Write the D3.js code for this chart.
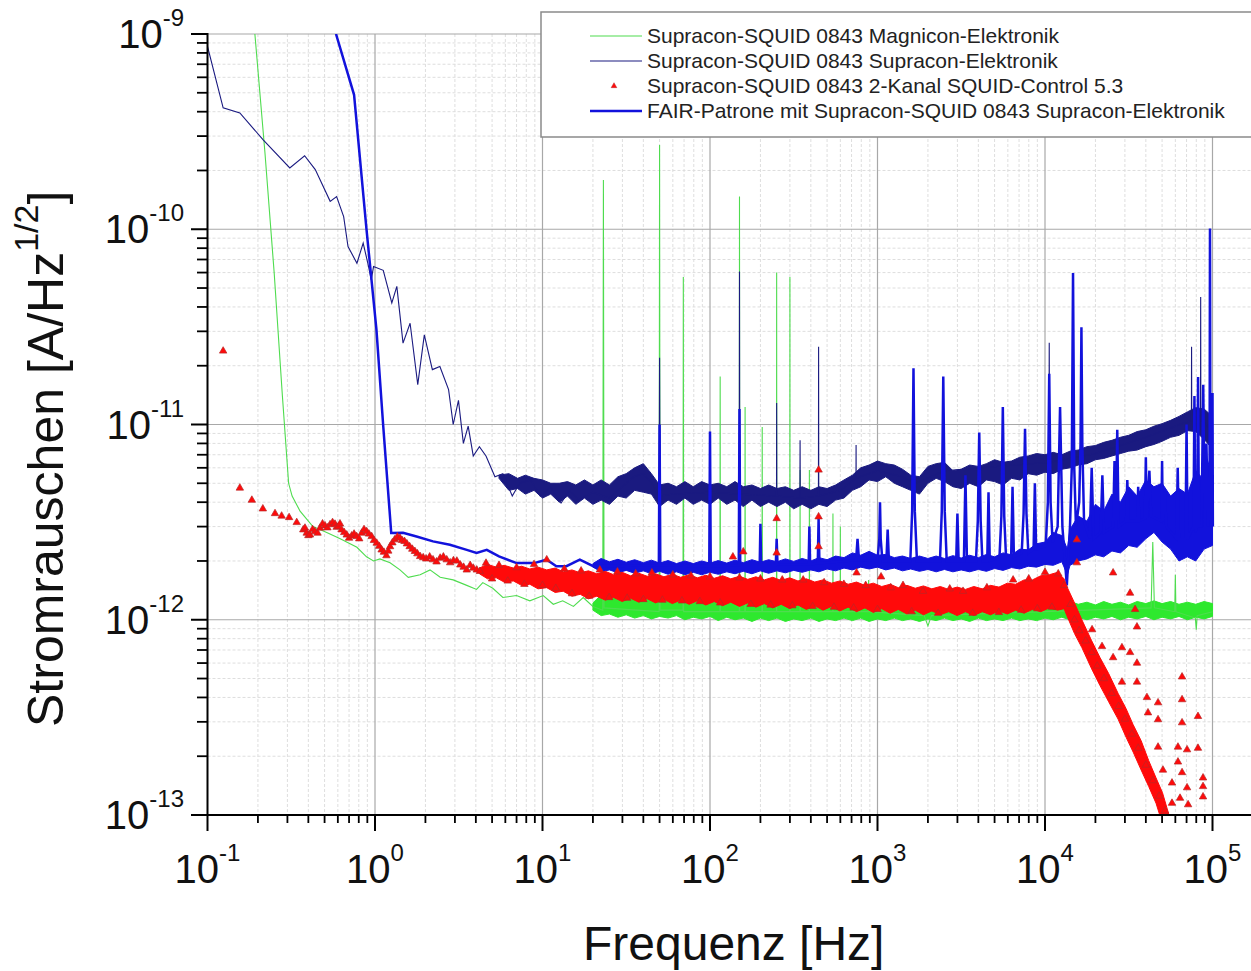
<!DOCTYPE html>
<html>
<head>
<meta charset="utf-8">
<script src="https://cdn.jsdelivr.net/npm/d3@7"></script>
<style>
  body { margin: 0; background: #fff; }
  svg { display: block; font-family: "Liberation Sans", Arial, sans-serif; }
</style>
</head>
<body>
<div id="chart"></div>
<script>
// values in pA/Hz^1/2 (1e-12 A/Hz^1/2), frequency in Hz
const xTickValues = [0.1, 1, 10, 100, 1000, 10000, 100000];
const xTickExp = ["-1", "0", "1", "2", "3", "4", "5"];
const yTickValues = [1e-13, 1e-12, 1e-11, 1e-10, 1e-9];
const yTickExp = ["-13", "-12", "-11", "-10", "-9"];

const seriesNames = [
  "Supracon-SQUID 0843 Magnicon-Elektronik",
  "Supracon-SQUID 0843 Supracon-Elektronik",
  "Supracon-SQUID 0843 2-Kanal SQUID-Control 5.3",
  "FAIR-Patrone mit Supracon-SQUID 0843 Supracon-Elektronik"
];

const greenTrace = [
  [0.19,1100],[0.22,250],[0.25,60],[0.28,14],[0.305,5.0],[0.32,4.3],[0.357,3.6],[0.426,3.0],[0.515,2.8],
  [0.62,2.6],[0.78,2.35],[0.89,2.1],[0.98,2.0],[1.07,2.05],[1.23,1.96],[1.41,1.8],[1.58,1.65],[1.86,1.7],
  [2.13,1.8],[2.45,1.65],[2.93,1.6],[3.53,1.5],[4.04,1.43],[4.4,1.55],[5.05,1.45],[5.8,1.3],[7.0,1.33],
  [8.4,1.25],[10.1,1.33],[11.6,1.2],[13.2,1.25],[15.3,1.17],[17.5,1.3],[20,1.17],
  [22.9,1.12],[23.1,179],[23.3,1.15],[49.7,1.1],[50,270],[50.3,1.12],[69,1.12],[69.3,57],[69.6,1.1],
  [114.6,1.1],[115,17.6],[115.4,1.1],[149.5,1.1],[150,147],[150.5,1.1],[161.6,1.1],[162,12.3],[162.4,1.1],
  [204.5,1.1],[205,9.7],[205.5,1.1],[249.5,1.1],[250,60],[250.5,1.1],[299.5,1.1],[300,57],[300.5,1.1],
  [344.5,1.1],[345,5.85],[345.5,1.1],[391.5,1.1],[392,5.85],[392.5,1.1],[541,1.1],[542,3.5],[543,1.1],
  [599,1.1],[600,3.0],[601,1.1],[880,1.1],[885,1.6],[890,1.1],[1900,1.05],[2000,0.93],[2100,1.05],
  [43000,1.15],[44000,2.5],[45000,1.15],[59500,1.1],[60000,1.7],[60500,1.1],[79000,1.02],[80000,0.89],
  [81000,1.05],[100000,1.1]
];
const greenBand = [
  [20,1.12,1.22],[22.4,1.05,1.34],[25.1,1.07,1.28],[28.2,1.03,1.33],[31.6,1.06,1.27],[35.5,1.02,1.31],
  [40,1.05,1.26],[44.7,1.01,1.3],[50,1.04,1.25],[56.2,1.02,1.29],[63.1,1.05,1.24],[70.8,1.0,1.28],
  [79.4,1.03,1.23],[89.1,1.01,1.27],[100,1.04,1.24],[112,0.99,1.27],[126,1.03,1.22],[141,1.0,1.26],
  [158,1.02,1.23],[178,0.98,1.27],[200,1.02,1.22],[224,0.99,1.25],[251,1.02,1.21],[282,0.98,1.26],
  [316,1.01,1.22],[355,0.99,1.25],[400,1.02,1.21],[447,0.98,1.25],[500,1.01,1.22],[562,0.99,1.26],
  [631,1.02,1.22],[708,0.99,1.25],[794,1.02,1.21],[891,0.98,1.24],[1000,1.01,1.22],[1120,0.99,1.24],
  [1260,1.02,1.21],[1410,0.99,1.25],[1580,1.01,1.22],[1780,0.98,1.24],[2000,1.01,1.21],[2240,0.99,1.24],
  [2510,1.02,1.22],[2820,0.99,1.25],[3160,1.01,1.21],[3550,0.98,1.24],[4000,1.02,1.22],[4470,0.99,1.25],
  [5000,1.01,1.21],[5620,0.99,1.24],[6310,1.02,1.22],[7080,0.99,1.25],[7940,1.01,1.22],[8910,0.99,1.24],
  [10000,1.02,1.22],[11200,1.0,1.25],[12600,1.03,1.21],[14100,1.0,1.24],[15800,1.03,1.2],[17800,1.0,1.23],
  [20000,1.03,1.19],[22400,1.01,1.24],[25100,1.04,1.2],[28200,1.0,1.23],[31600,1.03,1.19],[35500,1.01,1.24],
  [40000,1.04,1.21],[44700,1.0,1.25],[50000,1.03,1.21],[56200,1.01,1.24],[63100,1.04,1.2],[70800,1.0,1.23],
  [79400,1.03,1.2],[89100,1.01,1.24],[100000,1.04,1.21]
];

const navyTrace = [
  [0.1,863],[0.124,419],[0.156,394],[0.215,287],[0.31,206],[0.38,238],[0.44,202],[0.54,139],[0.59,147],
  [0.65,116],[0.69,81.6],[0.78,67],[0.85,85],[0.91,65.8],[0.95,55],[0.98,64.4],[1.12,61.6],[1.26,41.9],
  [1.35,51],[1.47,26.1],[1.62,33],[1.8,16],[1.97,28.8],[2.2,19.1],[2.44,19.8],[2.75,15.1],[2.93,10.0],
  [3.15,13.3],[3.37,8.0],[3.6,9.8],[3.86,6.9],[4.2,7.7],[4.6,6.9],[5.2,5.4],[5.8,5.6],[6.6,4.3],[7.3,5.0],
  [8.5,5.2],[9.7,4.3],[11.1,4.8],[12.9,3.96],[14.5,4.6],[16.4,4.1],[20,4.5],[25,4.2],[30,4.8],[35,5.4],
  [40,5.6],[45,5.0],[49.7,4.3],[50,22],[50.3,4.3],[60,4.4],[100,4.5],[149.5,4.4],[150,60.7],[150.5,4.4],
  [249.5,4.3],[250,12.9],[250.5,4.3],[344,4.2],[345,8.3],[346,4.2],[444,4.3],[445,25],[446,4.3],[600,4.6],
  [744,5.3],[745,7.85],[746,5.3],[1000,5.8],[1400,5.4],[1700,5.0],[2500,5.8],[10550,6.4],[10600,26.2],
  [10650,6.4],[20000,7.1],[40000,8.6],[74800,10.5],[75000,25],[75200,10.5],[84800,10.5],[85000,45],
  [85200,10.5],[92000,10],[100000,9]
];
const navyBand = [
  [5.5,5.3,5.5],[6.3,4.6,5.6],[7.1,4.7,5.3],[7.9,4.4,5.5],[8.9,4.6,5.3],[10,4.2,5.2],[11.2,4.4,5.0],
  [12.6,4.0,5.0],[14.1,4.3,5.1],[15.8,3.9,4.9],[17.8,4.2,5.2],[20,3.9,4.9],[22.4,4.1,5.2],[25.1,3.9,4.9],
  [28.2,4.3,5.4],[31.6,4.2,5.6],[35.5,4.6,6.0],[40,4.5,6.3],[44.7,4.4,5.6],[50,3.8,4.9],[56.2,4.1,5.0],
  [63.1,3.9,4.8],[70.8,4.2,5.1],[79.4,3.9,4.8],[89.1,4.1,5.1],[100,3.9,4.9],[112,4.2,5.0],[126,3.9,4.8],
  [141,4.1,5.1],[158,3.8,4.8],[178,4.1,4.9],[200,3.8,4.7],[224,4.0,4.9],[251,3.8,4.7],[282,4.0,4.8],
  [316,3.7,4.6],[355,3.9,4.8],[400,3.7,4.6],[447,3.9,4.8],[500,3.8,4.7],[562,4.1,4.9],[631,4.2,5.2],
  [708,4.6,5.5],[794,4.8,6.0],[891,5.2,6.2],[1000,5.1,6.5],[1120,5.4,6.3],[1260,5.0,6.2],[1410,4.8,5.9],
  [1580,4.6,5.5],[1780,4.4,5.4],[2000,5.0,6.1],[2240,5.3,6.3],[2510,5.1,6.4],[2820,4.8,5.8],[3160,4.7,5.9],
  [3550,5.0,6.2],[4000,4.8,6.1],[4470,5.2,6.3],[5000,5.1,6.6],[5620,4.9,6.4],[6310,5.3,6.5],[7080,5.2,6.8],
  [7940,5.6,6.9],[8910,5.5,7.1],[10000,5.7,7.0],[11200,5.6,7.2],[12600,5.9,7.0],[14100,6.0,7.3],
  [15800,6.2,7.4],[17800,6.3,7.7],[20000,6.6,7.8],[22400,6.7,8.1],[25100,6.9,8.3],[28200,7.1,8.6],
  [31600,7.3,8.8],[35500,7.4,9.2],[40000,7.7,9.4],[44700,7.9,9.8],[50000,8.2,10.1],[56200,8.6,10.5],
  [63100,8.8,11.0],[70800,9.3,11.6],[79400,9.2,12.2],[89100,8.4,12.0],[100000,7.5,11.0]
];

const royalTrace = [
  [0.585,1000],[0.75,488],[0.89,99.5],[1.02,30.6],[1.12,9.8],[1.25,2.78],[1.47,2.79],[1.77,2.67],[2.22,2.52],
  [2.8,2.42],[3.53,2.28],[4.04,2.2],[4.65,2.28],[5.5,2.11],[7.0,1.95],[8.9,1.95],[10.6,2.03],[12.1,1.88],
  [13.9,1.88],[16.7,2.03],[20.1,1.88],
  [49.5,1.9],[50,10],[50.5,1.9],[99,1.88],[100,9.2],[101,1.88],[148.5,1.9],[150,12],[151.5,1.9],
  [198,1.9],[200,3.1],[202,1.9],[247,1.9],[250,2.6],[253,1.92],[388,1.92],[392,3.0],[396,1.92],
  [440,1.95],[445,3.3],[450,1.95],[745,2.02],[760,2.6],[775,2.02],
  [1000,2.0],[1025,2.6],[1035,4.0],[1045,2.6],[1070,2.0],[1130,2.0],[1150,2.9],[1170,2.0],
  [1570,2.0],[1610,3.6],[1640,19.4],[1670,3.6],[1720,2.0],[2360,2.0],[2420,3.6],[2470,17.6],[2520,3.6],[2590,2.0],
  [2950,2.0],[3000,3.5],[3050,2.0],[3280,2.0],[3350,5.5],[3420,2.0],
  [3870,2.0],[3970,3.2],[4050,9.1],[4130,3.2],[4230,2.0],[4520,2.0],[4600,4.5],[4680,2.0],
  [5350,2.1],[5490,3.4],[5600,12.3],[5710,3.4],[5850,2.1],[6280,2.1],[6400,4.8],[6520,2.1],
  [7260,2.2],[7450,3.5],[7600,9.5],[7750,3.5],[7950,2.2],[8550,2.3],[8700,5.0],[8850,2.3],
  [10100,2.4],[10400,4.0],[10600,18.2],[10800,4.0],[11100,2.5],[11900,3.0],[12300,12.3],[12700,3.0],
  [13500,1.5],[14100,3.0],[14450,6.0],[14700,59.7],[14950,6.0],[15300,3.0],
  [16000,4.0],[16300,8.0],[16500,31.5],[16700,8.0],[17100,3.2],[18500,2.6],[19000,6.0],[19500,2.6],
  [21500,2.8],[22000,5.5],[22500,2.8],[25500,3.0],[26000,6.5],[26500,3.0],[27000,9.4],[27500,3.0],
  [30500,3.2],[31000,5.2],[31500,3.2],[35500,3.2],[36000,4.8],[36500,3.2],[39500,3.3],[40000,6.8],
  [40500,3.3],[42000,5.8],[43000,3.4],[49500,3.2],[50000,6.5],[50500,3.2],[52000,4.5],[53000,3.0],
  [61000,2.6],[62000,6.0],[63000,2.6],[69000,2.6],[70000,10],[71000,2.6],[77000,3.0],[78000,14],[79000,2.8],
  [81000,3.0],[82000,17.5],[83000,3.0],[86000,3.0],[88000,16],[90000,3.0],[92000,8],[94000,3.0],
  [96000,3.5],[96600,101],[97200,4.0],[99000,3.0],[100000,14.5],[100500,3.0]
];
const royalBand = [
  [20,1.86,1.94],[22.4,1.76,2.06],[25.1,1.8,1.98],[28.2,1.74,2.04],[31.6,1.79,1.97],[35.5,1.73,2.03],
  [40,1.78,1.96],[44.7,1.72,2.02],[50,1.77,1.95],[56.2,1.71,2.01],[63.1,1.76,1.94],[70.8,1.7,2.0],
  [79.4,1.75,1.94],[89.1,1.7,2.0],[100,1.75,1.95],[112,1.71,2.01],[126,1.76,1.95],[141,1.72,2.02],
  [158,1.77,1.96],[178,1.72,2.03],[200,1.78,1.97],[224,1.73,2.03],[251,1.78,1.98],[282,1.74,2.05],
  [316,1.79,1.99],[355,1.75,2.06],[400,1.8,2.0],[447,1.76,2.08],[500,1.82,2.03],[562,1.78,2.12],
  [631,1.84,2.08],[708,1.8,2.2],[794,1.86,2.14],[891,1.82,2.24],[1000,1.86,2.14],[1120,1.8,2.16],
  [1260,1.84,2.08],[1410,1.78,2.12],[1580,1.82,2.06],[1780,1.77,2.12],[2000,1.81,2.06],[2240,1.76,2.12],
  [2510,1.81,2.06],[2820,1.76,2.13],[3160,1.8,2.07],[3550,1.76,2.14],[4000,1.81,2.08],[4470,1.77,2.16],
  [5000,1.83,2.1],[5620,1.79,2.2],[6310,1.85,2.15],[7080,1.82,2.3],[7940,1.88,2.28],[8910,1.86,2.45],
  [10000,1.92,2.5],[11200,1.9,2.8],[12600,1.98,2.7],[13600,1.7,2.3],[14100,1.9,2.9],[15800,2.0,3.4],
  [17800,2.05,3.2],[20000,2.15,3.9],[22400,2.1,3.6],[25100,2.25,4.4],[28200,2.2,4.0],[31600,2.4,4.8],
  [35500,2.35,4.3],[40000,2.6,5.2],[44700,2.8,4.8],[50000,2.5,5.0],[56200,2.3,4.3],[63100,2.0,4.7],
  [70800,2.1,4.4],[79400,2.0,5.8],[89100,2.3,5.2],[100000,2.4,7.5]
];

const redPoints = [
  [0.124,23.8],[0.156,4.73],[0.184,4.1],[0.214,3.7],[0.253,3.5],[0.277,3.4],[0.307,3.34],[0.341,3.15],
  [0.373,2.89],[0.382,2.95],[0.391,2.78],[0.4,2.7],[0.409,2.72],[0.424,2.9],[0.438,2.83],[0.454,2.78],
  [0.47,2.95],[0.486,3.1],[0.503,3.03],[0.52,2.96],[0.539,3.07],[0.558,3.15],[0.577,3.09],[0.59,2.98],
  [0.604,3.0],[0.618,3.1],[0.632,2.89],[0.655,2.8],[0.678,2.72],[0.7,2.62],[0.726,2.69],[0.75,2.75],
  [0.777,2.67],[0.805,2.6],[0.833,2.78],[0.86,2.9],[0.892,2.83],[0.92,2.75],[0.955,2.67],[0.985,2.55],
  [1.023,2.47],[1.06,2.38],[1.095,2.28],[1.13,2.22],[1.17,2.13],[1.2,2.25],[1.23,2.37],[1.27,2.48],
  [1.31,2.57],[1.36,2.66],[1.41,2.62],[1.45,2.55],[1.5,2.52],[1.55,2.45],[1.61,2.37],[1.67,2.3],
  [1.73,2.24],[1.79,2.18],[1.86,2.11],[1.94,2.08],[2.02,2.05],[2.12,2.1],[2.22,2.03],[2.33,1.98],
  [2.45,2.07],[2.56,2.1],[2.68,2.03],[2.81,1.96],[2.94,2.01],[3.08,2.0],[3.23,1.91],[3.38,1.86],
  [3.53,1.8],[3.7,1.9],[3.86,1.84],[4.05,1.8],[4.23,1.77],
  [4.6,1.95],[5.0,1.62],[5.5,1.9],[6.2,1.58],[7.0,1.85],[7.8,1.52],[8.9,1.92],[10,1.5],[10.6,2.03],
  [12,1.45],[13.5,1.82],[15,1.36],[17,1.78],[19,1.32],[22,1.8],[25,1.3],[28,1.76],[32,1.29],[36,1.72],
  [40,1.27],[45,1.74],[52,1.26],[60,1.7],[68,1.25],[77,1.68],[87,1.24],[100,1.66],[115,1.22],[137,2.1],
  [150,1.64],[158,2.23],[175,1.2],[200,1.62],[230,1.19],[250,3.3],[250,2.2],[270,1.6],[310,1.18],
  [360,1.6],[410,1.17],[445,5.85],[445,3.37],[445,2.37],[480,1.55],[550,1.16],[630,1.52],[720,1.15],
  [750,1.74],[850,1.5],[1000,1.13],[1050,1.66],[1200,1.46],[1420,1.5],[1600,1.1],[1870,1.4],[2300,1.08],
  [2700,1.44],[3240,1.4],[3700,1.08],[4500,1.46],[5300,1.09],[6450,1.6],[7200,1.12],[8000,1.62],
  [9000,1.14],[10000,1.75],[11000,1.16],[12000,1.72],[13000,1.5],
  [14200,1.2],[15000,1.0],[16000,0.88],[17500,0.78],[19000,0.68],[20500,0.58],[22500,0.5],[25000,0.42],
  [27500,0.36],[30000,0.31],[33000,0.26],[36000,0.22],[40000,0.18],[44000,0.15],[48000,0.125],[52000,0.105],
  [15500,2.57],[15500,1.96],[25500,1.74],[32200,1.37],[34500,1.13],[35400,0.92],[19100,0.89],[21900,0.73],
  [25500,0.64],[28800,0.72],[32200,0.68],[35400,0.6],[28800,0.48],[35400,0.48],[40600,0.4],[47300,0.376],
  [41200,0.334],[47300,0.308],[65800,0.51],[65800,0.39],[81900,0.32],[65800,0.297],[47300,0.223],
  [62200,0.223],[70500,0.216],[81900,0.22],[62200,0.187],[50600,0.17],[65800,0.165],[87800,0.155],
  [57300,0.146],[70500,0.138],[87800,0.14],[64000,0.122],[57300,0.115],[71500,0.113],[87800,0.124]
];
const redBand = [
  [4.2,1.72,1.84],[4.7,1.62,1.92],[5.3,1.64,1.86],[5.9,1.56,1.9],[6.7,1.58,1.84],[7.5,1.5,1.88],
  [8.4,1.52,1.82],[9.4,1.44,1.86],[10.6,1.46,1.8],[11.9,1.38,1.84],[13.3,1.4,1.76],[15,1.32,1.8],
  [16.8,1.35,1.74],[18.8,1.28,1.78],[21.1,1.32,1.72],[23.7,1.26,1.77],[26.6,1.3,1.7],[29.9,1.24,1.75],
  [33.5,1.29,1.68],[37.6,1.23,1.73],[42.2,1.28,1.67],[47.3,1.22,1.72],[53.1,1.27,1.66],[59.6,1.21,1.71],
  [66.8,1.26,1.65],[75,1.2,1.7],[84.1,1.25,1.64],[94.4,1.19,1.69],[106,1.24,1.63],[119,1.18,1.68],
  [133,1.23,1.62],[150,1.17,1.67],[168,1.22,1.61],[188,1.16,1.66],[211,1.21,1.6],[237,1.15,1.65],
  [266,1.2,1.59],[299,1.14,1.64],[335,1.19,1.58],[376,1.13,1.62],[422,1.18,1.56],[473,1.12,1.6],
  [531,1.17,1.54],[596,1.11,1.58],[668,1.16,1.52],[750,1.1,1.56],[841,1.15,1.5],[944,1.09,1.54],
  [1060,1.14,1.48],[1190,1.08,1.52],[1330,1.13,1.46],[1500,1.07,1.5],[1680,1.12,1.45],[1880,1.06,1.49],
  [2110,1.11,1.44],[2370,1.06,1.48],[2660,1.1,1.43],[2990,1.05,1.47],[3350,1.1,1.43],[3760,1.05,1.48],
  [4220,1.1,1.44],[4730,1.06,1.5],[5310,1.11,1.47],[5960,1.07,1.54],[6680,1.12,1.52],[7500,1.08,1.6],
  [8410,1.13,1.6],[9440,1.1,1.68],[10600,1.15,1.7],[11900,1.12,1.75],[13000,1.14,1.62],[13500,1.05,1.48],
  [15000,0.85,1.22],[16600,0.72,1.0],[19000,0.56,0.78],[21300,0.46,0.64],[24000,0.38,0.53],[27300,0.31,0.42],
  [30500,0.25,0.35],[33600,0.21,0.29],[37500,0.17,0.24],[41600,0.14,0.19],[46000,0.115,0.155],
  [50300,0.09,0.13],[55000,0.075,0.1]
];

const width = 1251, height = 971;
const pA = 1e-12;
const colors = { green: "#4fdc4f", greenBand: "#2ee82e", navy: "#1a1a80", royal: "#1212dc", red: "#ff0a0a" };

const svg = d3.select("#chart").append("svg")
  .attr("width", width)
  .attr("height", height);

const x = d3.scaleLog().domain([0.1, 1e5]).range([207.5, 1212.5]);
const y = d3.scaleLog().domain([1e-13, 1e-9]).range([815, 34]);
const plotRight = 1251;

const isDecade = d => Math.abs(Math.log10(d) - Math.round(Math.log10(d))) < 1e-6;
const xMinor = x.ticks().filter(d => !isDecade(d));
const yMinor = y.ticks().filter(d => !isDecade(d));

// grid
const grid = svg.append("g");
grid.selectAll(".xmin").data(xMinor).join("line")
  .attr("x1", d => x(d)).attr("x2", d => x(d)).attr("y1", 34).attr("y2", 815)
  .attr("stroke", "#dedede").attr("stroke-dasharray", "3,2");
grid.selectAll(".ymin").data(yMinor).join("line")
  .attr("x1", 207.5).attr("x2", plotRight).attr("y1", d => y(d)).attr("y2", d => y(d))
  .attr("stroke", "#dedede").attr("stroke-dasharray", "3,2");
grid.selectAll(".xmaj").data(xTickValues.slice(1)).join("line")
  .attr("x1", d => x(d)).attr("x2", d => x(d)).attr("y1", 34).attr("y2", 815)
  .attr("stroke", "#a8a8a8").attr("stroke-width", 1.2);
grid.selectAll(".ymaj").data(yTickValues.slice(1)).join("line")
  .attr("x1", 207.5).attr("x2", plotRight).attr("y1", d => y(d)).attr("y2", d => y(d))
  .attr("stroke", "#a8a8a8").attr("stroke-width", 1.2);

// data
svg.append("clipPath").attr("id", "plotclip")
  .append("rect").attr("x", 207.5).attr("y", 34).attr("width", plotRight - 207.5).attr("height", 781);
const data = svg.append("g").attr("clip-path", "url(#plotclip)");

const line = d3.line().x(d => x(d[0])).y(d => y(d[1] * pA));
const band = d3.area().x(d => x(d[0])).y0(d => y(d[1] * pA)).y1(d => y(d[2] * pA));

data.append("path").datum(greenBand).attr("d", band)
  .attr("fill", colors.greenBand).attr("stroke", colors.greenBand).attr("stroke-width", 1);
data.append("path").datum(greenTrace).attr("d", line)
  .attr("fill", "none").attr("stroke", colors.green).attr("stroke-width", 1.1);

data.append("path").datum(navyBand).attr("d", band)
  .attr("fill", colors.navy).attr("stroke", colors.navy).attr("stroke-width", 1);
data.append("path").datum(navyTrace).attr("d", line)
  .attr("fill", "none").attr("stroke", colors.navy).attr("stroke-width", 1.1);

data.append("path").datum(royalBand).attr("d", band)
  .attr("fill", colors.royal).attr("stroke", colors.royal).attr("stroke-width", 1);
data.append("path").datum(royalTrace).attr("d", line)
  .attr("fill", "none").attr("stroke", colors.royal).attr("stroke-width", 2.5);

data.append("path").datum(redBand).attr("d", band)
  .attr("fill", colors.red).attr("stroke", colors.red).attr("stroke-width", 1);
const tri = d3.symbol().type(d3.symbolTriangle).size(24);
data.selectAll(".red").data(redPoints).join("path")
  .attr("transform", d => `translate(${x(d[0])},${y(d[1] * pA)})`)
  .attr("d", tri)
  .attr("fill", colors.red).attr("stroke", "#b82828").attr("stroke-width", 0.7);

// axes
const axes = svg.append("g").attr("stroke", "#000");
axes.append("line").attr("x1", 207.5).attr("x2", plotRight).attr("y1", 815).attr("y2", 815).attr("stroke-width", 2);
axes.append("line").attr("x1", 207.5).attr("x2", 207.5).attr("y1", 33).attr("y2", 815).attr("stroke-width", 2);
axes.selectAll(".xt").data(xTickValues).join("line")
  .attr("x1", d => x(d)).attr("x2", d => x(d)).attr("y1", 815).attr("y2", 831).attr("stroke-width", 2);
axes.selectAll(".xm").data(xMinor).join("line")
  .attr("x1", d => x(d)).attr("x2", d => x(d)).attr("y1", 815).attr("y2", 823).attr("stroke-width", 1.8);
axes.selectAll(".yt").data(yTickValues).join("line")
  .attr("x1", 191).attr("x2", 207.5).attr("y1", d => y(d)).attr("y2", d => y(d)).attr("stroke-width", 2);
axes.selectAll(".ym").data(yMinor).join("line")
  .attr("x1", 197).attr("x2", 207.5).attr("y1", d => y(d)).attr("y2", d => y(d)).attr("stroke-width", 1.8);

svg.selectAll(".xlab").data(xTickValues).join("text")
  .attr("x", d => x(d)).attr("y", 883).attr("text-anchor", "middle")
  .style("font-size", "40px").attr("fill", "#111")
  .each(function (d, i) {
    const t = d3.select(this);
    t.append("tspan").text("10");
    t.append("tspan").attr("dy", -22).style("font-size", "24px").text(xTickExp[i]);
  });
svg.selectAll(".ylab").data(yTickValues).join("text")
  .attr("x", 184).attr("y", d => y(d) + 14).attr("text-anchor", "end")
  .style("font-size", "40px").attr("fill", "#111")
  .each(function (d, i) {
    const t = d3.select(this);
    t.append("tspan").text("10");
    t.append("tspan").attr("dy", -22).style("font-size", "24px").text(yTickExp[i]);
  });

svg.append("text").attr("x", 583).attr("y", 960)
  .style("font-size", "48px").attr("fill", "#111").text("Frequenz [Hz]");

const yTitle = svg.append("text").attr("transform", "translate(63,727) rotate(-90)")
  .style("font-size", "50px").attr("fill", "#111");
yTitle.append("tspan").text("Stromrauschen [A/Hz");
yTitle.append("tspan").attr("dy", -25).style("font-size", "34px").text("1/2");
yTitle.append("tspan").attr("dy", 25).text("]");

// legend
const legend = svg.append("g");
legend.append("rect").attr("x", 541).attr("y", 12).attr("width", 730).attr("height", 125)
  .attr("fill", "#fff").attr("stroke", "#8a8a8a").attr("stroke-width", 1.5);
const rowY = [36, 61, 86, 111];
const rows = legend.selectAll(".row").data(seriesNames).join("g")
  .attr("transform", (d, i) => `translate(0,${rowY[i]})`);
rows.filter((d, i) => i !== 2).append("line")
  .attr("x1", 590).attr("x2", 642).attr("y1", 0).attr("y2", 0)
  .attr("stroke", (d, i) => [colors.green, colors.navy, colors.royal][i])
  .attr("stroke-width", (d, i) => [1.2, 1.1, 2.5][i]);
rows.filter((d, i) => i === 2).append("path")
  .attr("transform", "translate(614,0)").attr("d", d3.symbol().type(d3.symbolTriangle).size(14))
  .attr("fill", colors.red).attr("stroke", "#b82828").attr("stroke-width", 0.5);
rows.append("text").attr("x", 647).attr("y", 0).attr("dy", "0.35em")
  .style("font-size", "21px").attr("fill", "#222").text(d => d);
</script>
</body>
</html>
